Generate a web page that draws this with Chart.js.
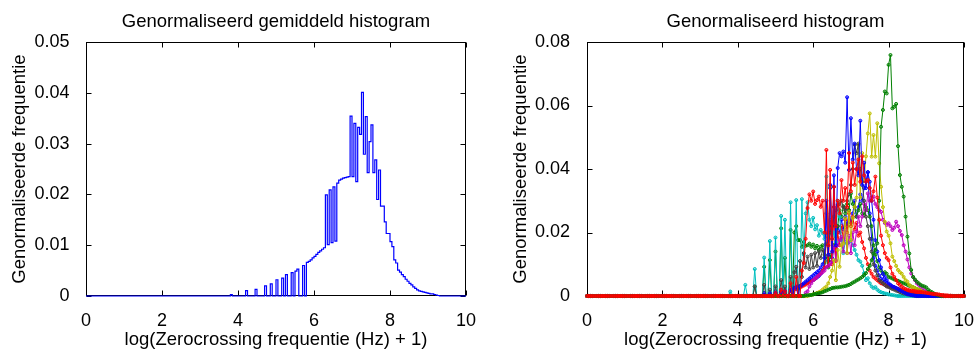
<!DOCTYPE html>
<html>
<head>
<meta charset="utf-8">
<script src="https://cdn.jsdelivr.net/npm/chart.js@4.4.0/dist/chart.umd.min.js"></script>
<style>
  html, body { margin: 0; padding: 0; background: #fff; }
  #wrap { position: relative; width: 980px; height: 352px; }
  canvas { position: absolute; top: 0; }
</style>
</head>
<body>
<div id="wrap">
  <canvas id="meanChart" width="490" height="352" style="left:0"></canvas>
  <canvas id="allChart" width="490" height="352" style="left:490px"></canvas>
</div>
<script>
// bin edges, log(Zerocrossing frequentie (Hz) + 1)
const bins = [
  0,0.05,0.1,0.15,0.2,0.25,0.3,0.35,0.4,0.45, 0.5,0.55,0.6,0.65,0.7,0.75,0.8,0.85,0.9,0.95,
  1,1.05,1.1,1.15,1.2,1.25,1.3,1.35,1.4,1.45, 1.5,1.55,1.6,1.65,1.7,1.75,1.8,1.85,1.9,1.95,
  2,2.05,2.1,2.15,2.2,2.25,2.3,2.35,2.4,2.45, 2.5,2.55,2.6,2.65,2.7,2.75,2.8,2.85,2.9,2.95,
  3,3.05,3.1,3.15,3.2,3.25,3.3,3.35,3.4,3.45, 3.5,3.55,3.6,3.65,3.7,3.75,3.8,3.85,3.9,3.95,
  4,4.05,4.1,4.15,4.2,4.25,4.3,4.35,4.4,4.45, 4.5,4.55,4.6,4.65,4.7,4.75,4.8,4.85,4.9,4.95,
  5,5.05,5.1,5.15,5.2,5.25,5.3,5.35,5.4,5.45, 5.5,5.55,5.6,5.65,5.7,5.75,5.8,5.85,5.9,5.95,
  6,6.05,6.1,6.15,6.2,6.25,6.3,6.35,6.4,6.45, 6.5,6.55,6.6,6.65,6.7,6.75,6.8,6.85,6.9,6.95,
  7,7.05,7.1,7.15,7.2,7.25,7.3,7.35,7.4,7.45, 7.5,7.55,7.6,7.65,7.7,7.75,7.8,7.85,7.9,7.95,
  8,8.05,8.1,8.15,8.2,8.25,8.3,8.35,8.4,8.45, 8.5,8.55,8.6,8.65,8.7,8.75,8.8,8.85,8.9,8.95,
  9,9.05,9.1,9.15,9.2,9.25,9.3,9.35,9.4,9.45, 9.5,9.55,9.6,9.65,9.7,9.75,9.8,9.85,9.9,9.95,
  10
];

const xTicks = [0, 2, 4, 6, 8, 10];
const meanYTicks = [0, 0.01, 0.02, 0.03, 0.04, 0.05];
const meanYLabels = ['0', '0.01', '0.02', '0.03', '0.04', '0.05'];
const allYTicks = [0, 0.02, 0.04, 0.06, 0.08];
const allYLabels = ['0', '0.02', '0.04', '0.06', '0.08'];

const meanTitle = 'Genormaliseerd gemiddeld histogram';
const allTitle = 'Genormaliseerd histogram';
const xLabel = 'log(Zerocrossing frequentie (Hz) + 1)';
const yLabel = 'Genormaliseerde frequentie';

// left: averaged histogram (stairs)
const meanHist = [
  0,0,0,0,0,0,0,0,0,0, 0,0,0,0,0,0,0,0,0,0,
  0,0,0,0,0,0,0,0,0,0, 0,0,0,0,0,0,0,0,0,0,
  0,0,0,0,0,0,0,0,0,0, 0,0,0,0,0,0,0,0,0,0,
  0,0,0,0,0,0,0,0,0,0, 0,0,0,0,0,0,.00026,0,0,0,
  0,0,0,0,.00105,0,0,0,0,.0013, 0,0,0,0,.002,0,0,.0024,0,0,
  .0032,0,0,.0035,0,.0042,0,0,.0046,0, .0049,.0053,0,0,.006,0,.0066,.0068,.0071,.0075,
  .0078,.0082,.0086,.0089,.0092,.0095,.0199,.0101,.0209,.0105, .0215,.0108,.0222,.0228,.023,.0232,.0233,.0234,.0235,.0354,
  .0235,.034,.0225,.0332,.0318,.0401,.0279,.0353,.0243,.0304, .0337,.0243,.0268,.019,.0248,.0177,.0177,.0146,.0123,.0123,
  .0107,.0097,.0071,.0065,.0051,.0047,.0042,.0038,.0033,.0029, .0025,.0022,.0018,.0015,.0012,.001,.0009,.0008,.0007,.0006,
  .0005,.0004,.0004,.0003,.0002,.0001,0,0,0,0, 0,0,0,0,0,0,0,0,0,0,
  0
];

// right: one histogram per file
const blueB = [
  0,0,0,0,0,0,0,0,0,0, 0,0,0,0,0,0,0,0,0,0,
  0,0,0,0,0,0,0,0,0,0, 0,0,0,0,0,0,0,0,0,0,
  0,0,0,0,0,0,0,0,0,0, 0,0,0,0,0,0,0,0,0,0,
  0,0,0,0,0,0,0,0,0,0, 0,0,0,0,0,0,0,0,0,0,
  0,0,0,0,0,0,0,0,0,0, 0,0,0,0,.001,0,0,0,0,0,
  .0015,0,0,.002,0,.0018,0,0,.0025,0, .0028,.003,.003,.0032,.0035,.0037,.004,.0042,.0045,.0048,
  .005,.0054,.0058,.0063,.007,.008,.009,.026,.011,.034, .012,.0344,.015,.022,.02,.024,.021,.025,.022,.027,
  .023,.026,.03,.025,.028,.032,.03,.034,.036,.039, .026,.018,.012,.0095,.008,.0065,.0055,.005,.0045,.004,
  .0035,.0033,.003,.0028,.0025,.0023,.002,.0018,.0015,.0013, .0012,.001,.0009,.0007,.0006,.0005,.0004,.0003,.0002,.0002,
  .0001,0,0,0,0,0,0,0,0,0, 0,0,0,0,0,0,0,0,0,0,
  0
];
const greenB = [
  0,0,0,0,0,0,0,0,0,0, 0,0,0,0,0,0,0,0,0,0,
  0,0,0,0,0,0,0,0,0,0, 0,0,0,0,0,0,0,0,0,0,
  0,0,0,0,0,0,0,0,0,0, 0,0,0,0,0,0,0,0,0,0,
  0,0,0,0,0,0,0,0,0,0, 0,0,0,0,0,0,0,0,0,0,
  0,0,0,0,0,0,0,0,0,.003, 0,0,0,0,.0092,0,0,.0113,0,0,
  .014,0,0,.0213,0,.012,0,0,.0208,0, .02,.022,.0176,.0176,.0155,.017,.0158,.016,.0165,.0155,
  .0162,.015,.0158,.0145,.0155,.016,.0104,.0124,.009,.013, .011,.016,.0187,.022,.027,.025,.0283,.026,.029,.027,
  .0323,.029,.028,.025,.027,.029,.026,.0255,.028,.027, .025,.022,.016,.013,.011,.009,.008,.007,.0075,.007,
  .006,.0058,.0055,.0052,.005,.0048,.0045,.0042,.004,.0038, .0035,.0032,.003,.0028,.0025,.0022,.002,.0018,.0015,.0013,
  .001,.0009,.0007,.0005,.0004,.0003,.0002,.0001,0,0, 0,0,0,0,0,0,0,0,0,0,
  0
];
const redB = [
  0,0,0,0,0,0,0,0,0,0, 0,0,0,0,0,0,0,0,0,0,
  0,0,0,0,0,0,0,0,0,0, 0,0,0,0,0,0,0,0,0,0,
  0,0,0,0,0,0,0,0,0,0, 0,0,0,0,0,0,0,0,0,0,
  0,0,0,0,0,0,0,0,0,0, 0,0,0,0,0,0,0,0,0,0,
  0,0,0,0,0,0,0,0,0,0, 0,0,0,0,.0003,0,0,.0004,0,0,
  .0005,0,0,.001,0,.0008,0,0,.0015,0, .002,.0022,.0025,.0027,.003,.0033,.0036,.004,.0043,.0047,
  .005,.0055,.006,.0066,.0072,.008,.009,.02,.0095,.024, .01,.028,.011,.02,.016,.022,.018,.024,.02,.026,
  .022,.025,.021,.023,.019,.02,.017,.015,.012,.01, .008,.007,.006,.0055,.005,.0045,.004,.0038,.0035,.0032,
  .003,.0028,.0027,.0025,.0024,.0022,.002,.0019,.0018,.0016, .0015,.0014,.0013,.0012,.0011,.001,.001,.0009,.0009,.0008,
  .0008,.0007,.0007,.0006,.0006,.0005,.0005,.0004,.0003,.0003, .0002,.0002,.0001,.0001,0,0,0,0,0,0,
  0
];
const cyanHist = [
  0,0,0,0,0,0,0,0,0,0, 0,0,0,0,0,0,0,0,0,0,
  0,0,0,0,0,0,0,0,0,0, 0,0,0,0,0,0,0,0,0,0,
  0,0,0,0,0,0,0,0,0,0, 0,0,0,0,0,0,0,0,0,0,
  0,0,0,0,0,0,0,0,0,0, 0,0,0,0,0,0,.0014,0,0,0,
  0,0,0,0,.0035,0,0,0,0,.0085, 0,0,0,0,.0121,0,0,.0173,0,0,
  .0184,0,0,.0252,0,.024,0,0,.0295,0, 0,.0302,0,0,.0305,.013,.026,.0295,.024,.022,
  .0246,.021,.0223,.019,.0208,.0198,.018,.0376,.019,.0344, .018,.02,.017,.03,.025,.0176,.0135,.017,.0165,.017,
  .0176,.016,.0145,.013,.0113,.0108,.0095,.0072,.005,.0056, .004,.003,.0025,.0028,.002,.0015,.0012,.001,.0008,.0007,
  .0005,.0004,.0003,.0002,.0001,0,0,0,0,0, 0,0,0,0,0,0,0,0,0,0,
  0,0,0,0,0,0,0,0,0,0, 0,0,0,0,0,0,0,0,0,0,
  0
];
const magentaHist = [
  0,0,0,0,0,0,0,0,0,0, 0,0,0,0,0,0,0,0,0,0,
  0,0,0,0,0,0,0,0,0,0, 0,0,0,0,0,0,0,0,0,0,
  0,0,0,0,0,0,0,0,0,0, 0,0,0,0,0,0,0,0,0,0,
  0,0,0,0,0,0,0,0,0,0, 0,0,0,0,0,0,0,0,0,0,
  0,0,0,0,0,0,0,0,0,0, 0,0,0,0,0,0,0,0,0,0,
  0,0,0,0,0,0,0,0,0,0, 0,0,0,0,0,0,.001,.0015,.003,.004,
  .005,.0055,.006,.0065,.007,.0075,.008,.009,.0095,.01, .011,.0155,.0113,.016,.0176,.0186,.014,.0208,.0135,.019,
  .0135,.02,.016,.0203,.025,.022,.025,.029,.027,.0323, .03,.031,.0313,.029,.028,.027,.0265,.024,.023,.0224,
  .0229,.022,.0208,.0215,.0234,.022,.0205,.0192,.016,.014, .0115,.009,.0071,.006,.005,.004,.0035,.003,.0024,.0018,
  .0015,.0012,.001,.0008,.0006,.0004,.0003,.0001,0,0, 0,0,0,0,0,0,0,0,0,0,
  0
];
const yellowHist = [
  0,0,0,0,0,0,0,0,0,0, 0,0,0,0,0,0,0,0,0,0,
  0,0,0,0,0,0,0,0,0,0, 0,0,0,0,0,0,0,0,0,0,
  0,0,0,0,0,0,0,0,0,0, 0,0,0,0,0,0,0,0,0,0,
  0,0,0,0,0,0,0,0,0,0, 0,0,0,0,0,0,0,0,0,0,
  0,0,0,0,0,0,0,0,0,0, 0,0,0,0,0,0,0,0,0,0,
  0,0,0,0,0,0,0,0,0,0, 0,0,0,0,0,0,0,0,.0002,.0003,
  .0005,.0007,.001,.0012,.0015,.002,.0025,.003,.004,.006, .008,.0113,.005,.0145,.0092,.016,.0166,.0245,.0135,.0266,
  .0176,.0245,.028,.031,.0476,.031,.045,.0365,.044,.0512, .0575,.0439,.0507,.0439,.0544,.0418,.0344,.028,.0234,.0203,
  .019,.0166,.0124,.011,.0095,.0082,.0075,.007,.006,.005, .0045,.0035,.003,.0028,.0025,.0022,.002,.0017,.0013,.0011,
  .001,.0008,.0007,.0006,.0005,.0004,.0002,.0001,0,0, 0,0,0,0,0,0,0,0,0,0,
  0
];
const grayHist = [
  0,0,0,0,0,0,0,0,0,0, 0,0,0,0,0,0,0,0,0,0,
  0,0,0,0,0,0,0,0,0,0, 0,0,0,0,0,0,0,0,0,0,
  0,0,0,0,0,0,0,0,0,0, 0,0,0,0,0,0,0,0,0,0,
  0,0,0,0,0,0,0,0,0,0, 0,0,0,0,0,0,0,0,0,0,
  0,0,0,0,0,0,0,0,0,.003, 0,0,0,0,.0035,0,0,.002,0,0,
  .003,0,0,.005,0,.003,0,0,.006,0, .0075,.0092,0,.011,.006,.0135,.009,.0124,.0085,.013,
  .009,.0135,.0095,.014,.012,.0145,.013,.0165,.016,.02, .022,.025,.027,.0287,.029,.03,.028,.027,.03,.032,
  .035,.04,.0476,.045,.048,.04,.036,.03,.025,.022, .018,.014,.01,.008,.0065,.005,.0045,.004,.0035,.003,
  .0028,.0025,.0022,.002,.0017,.0015,.0012,.001,.0008,.0007, .0005,.0004,.0003,.0002,.0001,0,0,0,0,0,
  0,0,0,0,0,0,0,0,0,0, 0,0,0,0,0,0,0,0,0,0,
  0
];
const blueA = [
  0,0,0,0,0,0,0,0,0,0, 0,0,0,0,0,0,0,0,0,0,
  0,0,0,0,0,0,0,0,0,0, 0,0,0,0,0,0,0,0,0,0,
  0,0,0,0,0,0,0,0,0,0, 0,0,0,0,0,0,0,0,0,0,
  0,0,0,0,0,0,0,0,0,0, 0,0,0,0,0,0,0,0,0,0,
  0,0,0,0,0,0,0,0,0,0, 0,0,0,0,.0005,0,0,.0008,0,0,
  .001,0,0,.0012,0,.0015,0,0,.002,0, .0025,.0028,0,.003,.0035,.004,.0045,.005,.0055,.006,
  .0065,.007,.0075,.008,.009,.01,.012,.03,.013,.035, .014,.038,.016,.0403,.045,.044,.0455,.042,.0626,.0397,
  .056,.043,.048,.04,.038,.0552,.035,.042,.034,.039, .036,.03,.024,.0176,.014,.0113,.009,.007,.006,.005,
  .004,.0035,.003,.0028,.0025,.0022,.0018,.0015,.0012,.0009, .0006,.0005,.0003,.0002,.0001,0,0,0,0,0,
  0,0,0,0,0,0,0,0,0,0, 0,0,0,0,0,0,0,0,0,0,
  0
];
const greenA = [
  0,0,0,0,0,0,0,0,0,0, 0,0,0,0,0,0,0,0,0,0,
  0,0,0,0,0,0,0,0,0,0, 0,0,0,0,0,0,0,0,0,0,
  0,0,0,0,0,0,0,0,0,0, 0,0,0,0,0,0,0,0,0,0,
  0,0,0,0,0,0,0,0,0,0, 0,0,0,0,0,0,0,0,0,0,
  0,0,0,0,0,0,0,0,0,0, 0,0,0,0,0,0,0,0,0,0,
  0,0,0,0,0,0,0,0,0,0, 0,0,0,0,0,0,.0002,.0002,.0003,.0003,
  .0005,.0006,.0008,.0009,.001,.0012,.0015,.0017,.002,.0022, .0025,.0026,.0027,.0027,.0028,.0029,.003,.0031,.0033,.0035,
  .0038,.0042,.0045,.0049,.0052,.0056,.006,.0066,.0072,.0085, .0095,.0113,.0134,.0145,.0166,.03,.0533,.0586,.0644,.0638,
  .0728,.0759,.0591,.0596,.0605,.0472,.0381,.0344,.0313,.025, .0187,.0134,.0082,.006,.0052,.0045,.004,.0035,.0032,.003,
  .0027,.002,.0015,.0012,.0008,.0005,.0003,.0001,0,0, 0,0,0,0,0,0,0,0,0,0,
  0
];
const redA = [
  0,0,0,0,0,0,0,0,0,0, 0,0,0,0,0,0,0,0,0,0,
  0,0,0,0,0,0,0,0,0,0, 0,0,0,0,0,0,0,0,0,0,
  0,0,0,0,0,0,0,0,0,0, 0,0,0,0,0,0,0,0,0,0,
  0,0,0,0,0,0,0,0,0,0, 0,0,0,0,0,0,0,0,0,0,
  0,0,0,0,0,0,0,0,0,0, 0,0,0,0,0,0,0,0,0,0,
  .001,0,0,.002,0,.0015,0,0,.004,0, 0,.006,0,0,.008,.0104,.018,.0277,.032,.03,
  .0329,.029,.0302,.0313,.0281,.03,.02,.046,.016,.0397, .018,.0344,.022,.03,.026,.0365,.03,.034,.028,.045,
  .033,.042,.035,.04,.043,.036,.044,.038,.036,.0365, .034,.03,.033,.0376,.031,.024,.019,.016,.0135,.012,
  .0113,.009,.007,.006,.005,.004,.0035,.003,.0025,.0022, .002,.0018,.0017,.0016,.0015,.0014,.0014,.0013,.0012,.0011,
  .001,.0009,.0008,.0007,.0006,.0006,.0005,.0004,.0002,.0001, 0,0,0,0,0,0,0,0,0,0,
  0
];

// plot order as in the original figure (last one ends up on top)
const fileSeries = [
  { name: 'blueB', data: blueB, color: '#0000ff' },
  { name: 'greenB', data: greenB, color: '#008000' },
  { name: 'redB', data: redB, color: '#ff0000' },
  { name: 'cyan', data: cyanHist, color: '#00bfbf' },
  { name: 'magenta', data: magentaHist, color: '#bf00bf' },
  { name: 'yellow', data: yellowHist, color: '#bfbf00' },
  { name: 'gray', data: grayHist, color: '#404040' },
  { name: 'blueA', data: blueA, color: '#0000ff' },
  { name: 'greenA', data: greenA, color: '#008000' },
  { name: 'redA', data: redA, color: '#ff0000' }
];

[{ name: 'mean', data: meanHist }, ...fileSeries].forEach(s => {
  if (s.data.length !== bins.length) throw new Error(s.name + ' has ' + s.data.length + ' values');
});

const FONT = "'Liberation Sans', Arial, sans-serif";
const tickFont = { family: FONT, size: 18, weight: 'normal' };
const labelFont = { family: FONT, size: 18.5, weight: 'normal' };

// MATLAB style box with inward ticks on all four sides
const boxFrame = {
  id: 'boxFrame',
  beforeDatasetsDraw(chart) {
    const { ctx, chartArea: a, scales: { x, y } } = chart;
    const L = Math.round(a.left) + 0.5, R = Math.round(a.right) - 0.5;
    const T = Math.round(a.top) + 0.5, B = Math.round(a.bottom) - 0.5;
    const len = 5;
    ctx.save();
    ctx.strokeStyle = '#000';
    ctx.lineWidth = 1;
    ctx.strokeRect(L, T, R - L, B - T);
    ctx.beginPath();
    x.ticks.forEach(t => {
      const px = Math.round(x.getPixelForValue(t.value)) + 0.5;
      ctx.moveTo(px, B); ctx.lineTo(px, B - len);
      ctx.moveTo(px, T); ctx.lineTo(px, T + len);
    });
    y.ticks.forEach(t => {
      const py = Math.round(y.getPixelForValue(t.value)) + 0.5;
      ctx.moveTo(L, py); ctx.lineTo(L + len, py);
      ctx.moveTo(R, py); ctx.lineTo(R - len, py);
    });
    ctx.stroke();
    ctx.restore();
  }
};

function makeOptions(title, yMax, yTicks, yLabels, yWidth, yTickPad, yTitlePad, padRight) {
  return {
    responsive: false,
    animation: false,
    layout: { padding: { left: 0, right: padRight, top: 0, bottom: 0 } },
    plugins: {
      legend: { display: false },
      tooltip: { enabled: false },
      title: {
        display: true, text: title, color: '#000', font: labelFont,
        fullSize: false, padding: { top: 11, bottom: 8.8 }
      }
    },
    scales: {
      x: {
        type: 'linear', min: 0, max: 10,
        afterBuildTicks: ax => { ax.ticks = xTicks.map(v => ({ value: v })); },
        afterFit: ax => { ax.height = 56; },
        grid: { display: false },
        border: { display: false },
        ticks: { color: '#000', font: tickFont, padding: 6, maxRotation: 0, autoSkip: false,
                 callback: v => String(v) },
        title: { display: true, text: xLabel, color: '#000', font: labelFont, padding: { top: 0, bottom: 1 } }
      },
      y: {
        type: 'linear', min: 0, max: yMax,
        afterBuildTicks: ax => { ax.ticks = yTicks.map(v => ({ value: v })); },
        afterFit: ax => { ax.width = yWidth; },
        grid: { display: false },
        border: { display: false },
        ticks: { color: '#000', font: tickFont, padding: yTickPad, autoSkip: false,
                 callback: (v, i) => yLabels[i] },
        title: { display: true, text: yLabel, color: '#000', font: labelFont, padding: { top: yTitlePad, bottom: 0 } }
      }
    }
  };
}

new Chart(document.getElementById('meanChart'), {
  type: 'line',
  data: {
    datasets: [{
      data: meanHist.map((v, i) => ({ x: bins[i], y: v })),
      stepped: true,
      borderColor: '#0000ff',
      borderWidth: 1.2,
      pointRadius: 0,
      clip: 3
    }]
  },
  options: makeOptions(meanTitle, 0.05, meanYTicks, meanYLabels, 86, 8.5, 8.4, 24),
  plugins: [boxFrame]
});

new Chart(document.getElementById('allChart'), {
  type: 'line',
  data: {
    datasets: fileSeries.map((s, i) => ({
      data: s.data.map((v, k) => ({ x: bins[k], y: v })),
      borderColor: s.color,
      backgroundColor: s.color + '66',
      borderWidth: 1,
      pointRadius: 1.5,
      pointBorderWidth: 1,
      pointBorderColor: s.color,
      pointBackgroundColor: s.color + '66',
      order: fileSeries.length - i,
      clip: 4
    }))
  },
  options: makeOptions(allTitle, 0.08, allYTicks, allYLabels, 97, 9, 20, 14),
  plugins: [boxFrame]
});
</script>
</body>
</html>
